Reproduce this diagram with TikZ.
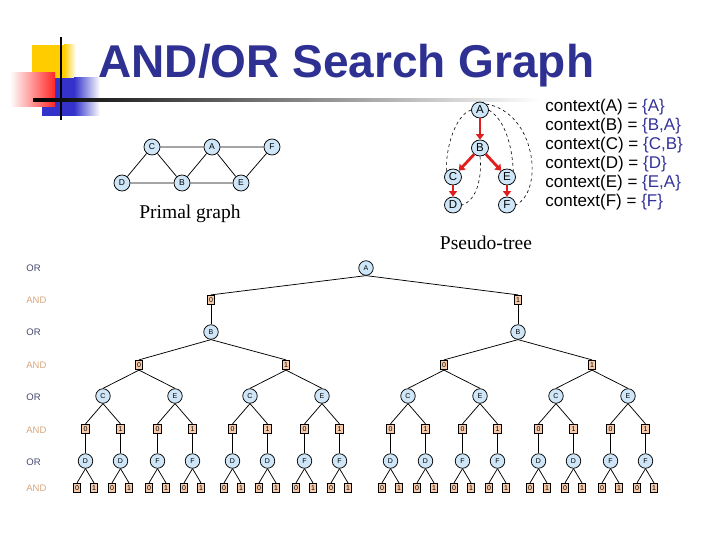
\documentclass[tikz,border=0pt]{standalone}
\usepackage{fontspec}
\setmainfont{Liberation Serif}
\setsansfont{Liberation Sans}
\usetikzlibrary{arrows.meta,positioning,shapes.geometric}

\definecolor{orfill}{RGB}{206,230,247}
\definecolor{andfill}{RGB}{248,204,170}
\definecolor{titleblue}{RGB}{46,49,146}
\definecolor{ctxblue}{RGB}{51,51,153}
\definecolor{orlbl}{RGB}{70,70,110}
\definecolor{andlbl}{RGB}{215,165,125}
\definecolor{logoyellow}{RGB}{255,204,0}
\definecolor{logoblue}{RGB}{51,51,204}
\definecolor{arrred}{RGB}{225,30,30}

\begin{document}
\begin{tikzpicture}[x=1pt, y=-1pt, line width=0.75pt,
  every node/.style={font=\sffamily},
  orn/.style={circle, draw, fill=orfill, minimum size=14.5pt, inner sep=0pt, font=\sffamily\fontsize{7}{7}\selectfont},
  andn/.style={rectangle, draw, fill=andfill, minimum width=7.5pt, minimum height=9.5pt, inner sep=0pt, font=\sffamily\fontsize{7}{7}\selectfont},
  lvl/.style={anchor=west, inner sep=0pt, font=\sffamily\fontsize{9.5}{10}\selectfont},
  pg/.style={circle, draw, fill=orfill, minimum size=16pt, inner sep=0pt, font=\sffamily\fontsize{8.5}{8.5}\selectfont},
  pt/.style={ellipse, draw, fill=orfill, minimum width=17pt, minimum height=16pt, inner sep=0pt, font=\sffamily\fontsize{11.5}{11.5}\selectfont},
  redarr/.style={-{Triangle[length=5.5pt,width=8pt]}, line width=2.8pt, arrred},
  ctx/.style={anchor=west, inner sep=0pt, font=\sffamily\fontsize{17}{17}\selectfont},
  caption/.style={font=\rmfamily\fontsize{19.5}{20}\selectfont}
]
  \useasboundingbox (0,0) rectangle (720,540);
  % logo e titolo
  \fill[logoyellow] (32,45) rectangle (64,80);
  \shade[left color=logoyellow, right color=white] (64,45) rectangle (76,80);
  \fill[logoblue] (42,78) rectangle (74,116);
  \shade[left color=logoblue, right color=white] (74,78) rectangle (100,116);
  \shade[left color=white, right color=red!85] (10,73) rectangle (55,107);
  \draw[line width=2pt] (61,37) -- (61,120);
  \shade[left color=black, middle color=black!55, right color=white] (33,98.5) rectangle (540,101.5);
  \node[font=\sffamily\bfseries\fontsize{46}{46}\selectfont, text=titleblue, anchor=base west, inner sep=0pt] (title) at (98,78) {AND/OR Search Graph};

  % grafo primale
  \node[pg] (gC) at (152,147) {C};
  \node[pg] (gA) at (212,147) {A};
  \node[pg] (gF) at (272,147) {F};
  \node[pg] (gD) at (122,183) {D};
  \node[pg] (gB) at (182,183) {B};
  \node[pg] (gE) at (241,183) {E};
  \draw (gC) -- (gA) -- (gF) -- (gE) -- (gB) -- (gD) -- (gC) -- (gB) -- (gA) -- (gE);
  \node[caption] (pgcap) at (190,214) {Primal graph};

  % pseudo-albero
  \node[pt] (pA) at (480,110) {A};
  \node[pt] (pB) at (480,148) {B};
  \node[pt] (pC) at (453,177) {C};
  \node[pt] (pE) at (507,177) {E};
  \node[pt] (pD) at (453,205) {D};
  \node[pt] (pF) at (507,205) {F};
  \draw[redarr] (pA) -- (pB);
  \draw[redarr] (pB) -- (pC);
  \draw[redarr] (pB) -- (pE);
  \draw[redarr] (pC) -- (pD);
  \draw[redarr] (pE) -- (pF);
  \draw[dashed, line width=0.6pt] (pA.west) .. controls (455,115) and (445,150) .. (pC.north west);
  \draw[dashed, line width=0.6pt] (pA.east) .. controls (505,120) and (512,145) .. (pE.north east);
  \draw[dashed, line width=0.6pt] (pA.north east) .. controls (535,112) and (545,190) .. (pF.east);
  \draw[dashed, line width=0.6pt] (pB.south) .. controls (482,175) and (478,200) .. (pD.east);
  \node[caption] (ptcap) at (486,243) {Pseudo-tree};

  % contesti
  \foreach \v/\c/\y in {A/A/107,B/{B,A}/126,C/{C,B}/145,D/D/164,E/{E,A}/183,F/F/202}{
    \node[ctx] (ctx\v) at (545,\y) {context(\v) = \textcolor{ctxblue}{\{\c\}}};
  }

  % etichette dei livelli
  \node[lvl, text=orlbl]  (l1) at (26,268) {OR};
  \node[lvl, text=andlbl] (l2) at (26,300) {AND};
  \node[lvl, text=orlbl]  (l3) at (26,332) {OR};
  \node[lvl, text=andlbl] (l4) at (26,365) {AND};
  \node[lvl, text=orlbl]  (l5) at (26,397) {OR};
  \node[lvl, text=andlbl] (l6) at (26,430) {AND};
  \node[lvl, text=orlbl]  (l7) at (26,462) {OR};
  \node[lvl, text=andlbl] (l8) at (26,488) {AND};

  % grafo AND/OR
  \node[orn] (A) at (366,268) {A};
  \node[andn] (a0) at (211,300) {0};
  \node[andn] (a1) at (518,300) {1};
  \node[orn] (b0) at (211,332) {B};
  \node[orn] (b1) at (518,332) {B};
  \node[andn] (v0) at (139,365) {0};
  \node[andn] (v1) at (286,365) {1};
  \node[andn] (v2) at (444,365) {0};
  \node[andn] (v3) at (592,365) {1};
  \draw (A.south) -- (a0.north);
  \draw (A.south) -- (a1.north);
  \draw (a0) -- (b0);
  \draw (a1) -- (b1);
  \draw (b0.south) -- (v0.north);
  \draw (b0.south) -- (v1.north);
  \draw (b1.south) -- (v2.north);
  \draw (b1.south) -- (v3.north);
  \foreach \k/\x in {0/139,1/286,2/444,3/592}{
    \foreach \br/\Lo/\Ll/\dx in {c/C/D/-36,e/E/F/36}{
      \pgfmathsetmacro\xs{\x+\dx}
      \node[orn] (\br\k) at (\xs,396) {\Lo};
      \draw (v\k.south) -- (\br\k.north);
      \foreach \j/\dj in {0/-17.5,1/17.5}{
        \pgfmathsetmacro\xj{\xs+\dj}
        \node[andn] (\br\k a\j) at (\xj,429) {\j};
        \node[orn] (\br\k o\j) at (\xj,461) {\Ll};
        \draw (\br\k.south) -- (\br\k a\j.north);
        \draw (\br\k a\j) -- (\br\k o\j);
        \foreach \m/\dm in {0/-8.5,1/8.5}{
          \pgfmathsetmacro\xm{\xj+\dm}
          \node[andn] (\br\k o\j l\m) at (\xm,488) {\m};
          \draw (\br\k o\j.south) -- (\br\k o\j l\m.north);
        }
      }
    }
  }
\end{tikzpicture}
\end{document}
